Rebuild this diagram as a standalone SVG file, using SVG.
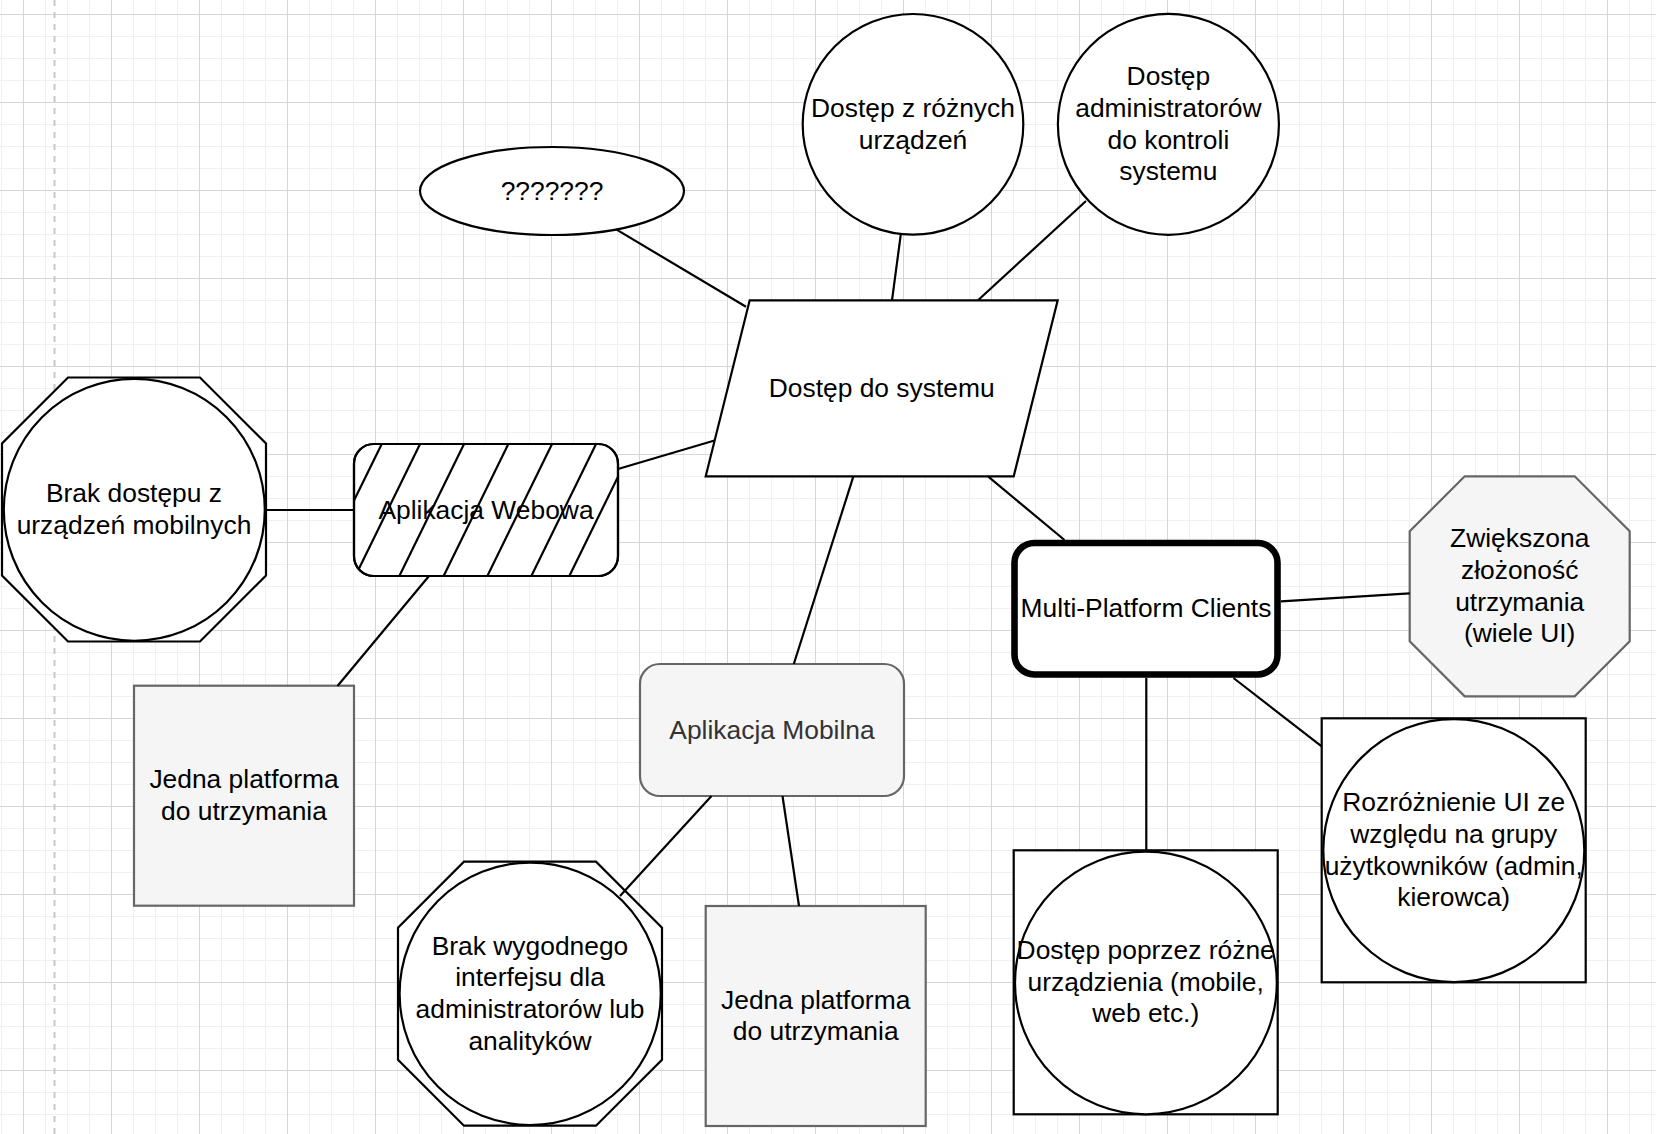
<svg xmlns="http://www.w3.org/2000/svg" width="1656" height="1134" viewBox="0 0 1656 1134">
<style>
.t{font-family:"Liberation Sans",Arial,Helvetica,sans-serif;font-size:26.4px;fill:#000;text-anchor:middle}
.t3{fill:#333}
.s{fill:#fff;stroke:#000;stroke-width:2.2}
.g{fill:#f5f5f5;stroke:#666;stroke-width:2.2}
.e{stroke:#000;stroke-width:2.2;fill:none}
.h{stroke:#000;stroke-width:2.2;fill:none}
</style>
<defs>
<pattern id="grid" x="23" y="14" width="88" height="88" patternUnits="userSpaceOnUse">
<path d="M22.5 0V88M44.5 0V88M66.5 0V88M0 22.5H88M0 44.5H88M0 66.5H88" stroke="#f0f0f0" stroke-width="1"/>
<path d="M0.5 0V88M0 0.5H88" stroke="#d6d6d6" stroke-width="1"/>
</pattern>
<clipPath id="webclip"><rect x="354" y="444" width="264" height="132" rx="19.8"/></clipPath>
</defs>
<g id="background">
<rect width="1656" height="1134" fill="#fff"/>
<rect width="1656" height="1134" fill="url(#grid)"/>
<line x1="54.5" y1="0" x2="54.5" y2="1134" stroke="#c8c8c8" stroke-width="2" stroke-dasharray="6 6"/>
</g>

<g id="node-unknown">
<ellipse class="s" cx="552" cy="191" rx="132" ry="44"/>
<text class="t" x="552" y="199.5">???????</text>
</g>

<g id="node-dostep-urzadzen">
<circle class="s" cx="913" cy="124.3" r="110.3"/>
<text class="t" x="913" y="116.95">Dostęp z różnych</text>
<text class="t" x="913" y="148.65">urządzeń</text>
</g>

<g id="node-dostep-admin">
<circle class="s" cx="1168.4" cy="124.3" r="110.5"/>
<text class="t" x="1168.4" y="85.25">Dostęp</text>
<text class="t" x="1168.4" y="116.95">administratorów</text>
<text class="t" x="1168.4" y="148.65">do kontroli</text>
<text class="t" x="1168.4" y="180.35">systemu</text>
</g>

<g id="node-dostep-systemu">
<polygon class="s" points="749.7,300.3 1057.7,300.3 1013.7,476.3 705.7,476.3"/>
<text class="t" x="881.7" y="396.8">Dostęp do systemu</text>
</g>

<g id="node-webowa">
<rect class="s" x="354" y="444" width="264" height="132" rx="19.8"/>
<g clip-path="url(#webclip)" class="h">
<line x1="384.2" y1="439" x2="314.6" y2="581"/>
<line x1="422.5" y1="439" x2="352.9" y2="581"/>
<line x1="466.5" y1="439" x2="396.9" y2="581"/>
<line x1="510.8" y1="439" x2="441.2" y2="581"/>
<line x1="554.5" y1="439" x2="484.9" y2="581"/>
<line x1="598.5" y1="439" x2="528.9" y2="581"/>
<line x1="636.5" y1="439" x2="566.9" y2="581"/>
</g>
<rect x="354" y="444" width="264" height="132" rx="19.8" fill="none" stroke="#000" stroke-width="2.2"/>
<text class="t" x="486" y="518.5">Aplikacja Webowa</text>
</g>

<g id="node-brak-mobilnych">
<polygon class="s" points="68,377.5 200,377.5 266,443.5 266,575.5 200,641.5 68,641.5 2,575.5 2,443.5"/>
<ellipse class="s" cx="134.3" cy="509.8" rx="130.5" ry="131"/>
<text class="t" x="134" y="502.2">Brak dostępu z</text>
<text class="t" x="134" y="533.9">urządzeń mobilnych</text>
</g>

<g id="node-jedna-web">
<rect class="g" x="134" y="685.7" width="220" height="220"/>
<text class="t" x="244" y="788.35">Jedna platforma</text>
<text class="t" x="244" y="820.05">do utrzymania</text>
</g>

<g id="node-mobilna">
<rect class="g" x="640" y="664" width="264" height="132" rx="19.8"/>
<text class="t t3" x="772" y="738.5">Aplikacja Mobilna</text>
</g>

<g id="node-brak-interfejsu">
<polygon class="s" points="464,861.7 596,861.7 662,927.7 662,1059.7 596,1125.7 464,1125.7 398,1059.7 398,927.7"/>
<ellipse class="s" cx="530.2" cy="993.8" rx="130.6" ry="131.2"/>
<text class="t" x="530" y="954.65">Brak wygodnego</text>
<text class="t" x="530" y="986.35">interfejsu dla</text>
<text class="t" x="530" y="1018.05">administratorów lub</text>
<text class="t" x="530" y="1049.75">analityków</text>
</g>

<g id="node-jedna-mobile">
<rect class="g" x="705.7" y="906" width="220" height="220"/>
<text class="t" x="815.7" y="1008.65">Jedna platforma</text>
<text class="t" x="815.7" y="1040.35">do utrzymania</text>
</g>

<g id="node-multi">
<rect x="1014.5" y="543" width="263" height="131.5" rx="19.8" fill="#fff" stroke="#000" stroke-width="6.6"/>
<text class="t" x="1146" y="617.25">Multi-Platform Clients</text>
</g>

<g id="node-zlozonosc">
<polygon class="g" points="1464.7,476.3 1574.7,476.3 1629.7,531.3 1629.7,641.3 1574.7,696.3 1464.7,696.3 1409.7,641.3 1409.7,531.3"/>
<text class="t" x="1519.7" y="547.25">Zwiększona</text>
<text class="t" x="1519.7" y="578.95">złożoność</text>
<text class="t" x="1519.7" y="610.65">utrzymania</text>
<text class="t" x="1519.7" y="642.35">(wiele UI)</text>
</g>

<g id="node-rozroznienie">
<rect class="s" x="1321.7" y="718.3" width="264" height="264"/>
<ellipse class="s" cx="1453.8" cy="850.6" rx="130.5" ry="131.5"/>
<text class="t" x="1453.7" y="811.25">Rozróżnienie UI ze</text>
<text class="t" x="1453.7" y="842.95">względu na grupy</text>
<text class="t" x="1453.7" y="874.65">użytkowników (admin,</text>
<text class="t" x="1453.7" y="906.35">kierowca)</text>
</g>

<g id="node-dostep-poprzez">
<rect class="s" x="1013.7" y="850.3" width="264" height="264"/>
<ellipse class="s" cx="1145.9" cy="983" rx="130.9" ry="131.3"/>
<text class="t" x="1145.7" y="958.95">Dostęp poprzez różne</text>
<text class="t" x="1145.7" y="990.65">urządzienia (mobile,</text>
<text class="t" x="1145.7" y="1022.35">web etc.)</text>
</g>

<g id="connectors" class="e">
<line x1="616.2" y1="229.4" x2="746" y2="306.8"/>
<line x1="900.8" y1="234.3" x2="892" y2="300.3"/>
<line x1="1086" y1="201" x2="978" y2="300.3"/>
<line x1="714.5" y1="440.5" x2="618" y2="469"/>
<line x1="853.3" y1="476.7" x2="793.8" y2="664"/>
<line x1="988.3" y1="476.7" x2="1064.5" y2="540"/>
<line x1="266" y1="510" x2="354" y2="510"/>
<line x1="429" y1="576" x2="337.5" y2="686"/>
<line x1="711.5" y1="796" x2="620" y2="896"/>
<line x1="782.5" y1="796" x2="799" y2="906"/>
<line x1="1281" y1="601.3" x2="1409.7" y2="593.3"/>
<line x1="1233.5" y1="678" x2="1322" y2="746.7"/>
<line x1="1146.3" y1="677.8" x2="1146.3" y2="850.3"/>
</g>
</svg>
